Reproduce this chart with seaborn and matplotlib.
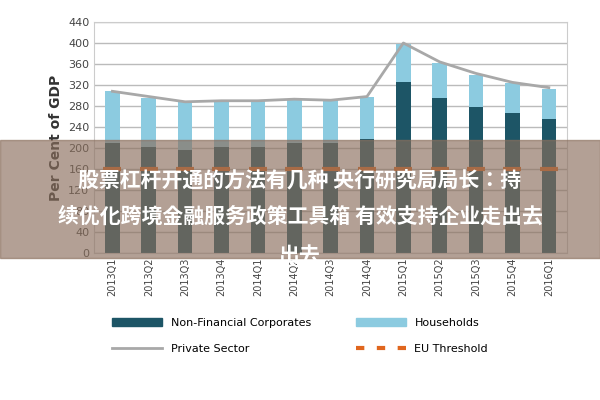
import matplotlib
matplotlib.use("Agg")
import matplotlib.pyplot as plt
from matplotlib import font_manager
import pandas as pd
import seaborn as sns
from matplotlib.patches import Patch, Rectangle
from matplotlib.lines import Line2D

quarters = ["2013Q1", "2013Q2", "2013Q3", "2013Q4", "2014Q1", "2014Q2", "2014Q3",
            "2014Q4", "2015Q1", "2015Q2", "2015Q3", "2015Q4", "2016Q1"]
non_financial = [210, 202, 197, 202, 202, 210, 210, 218, 326, 296, 278, 266, 256]
households = [98, 94, 93, 88, 88, 82, 82, 80, 72, 66, 62, 58, 56]
private_sector = [308, 298, 288, 290, 290, 293, 291, 298, 400, 364, 342, 325, 315]
eu_threshold = [160] * 13

df = pd.DataFrame({"quarter": quarters, "nfc": non_financial,
                   "total": [a + b for a, b in zip(non_financial, households)],
                   "private": private_sector, "eu": eu_threshold})

# pick a CJK font file directly
cjk = None
for f in font_manager.findSystemFonts():
    if "NotoSansCJK" in f.replace(" ", "") and ("Bold" in f or cjk is None):
        cjk = f
        if "Bold" in f:
            break
cjk_prop = font_manager.FontProperties(fname=cjk, size=15, weight="bold") if cjk else \
    font_manager.FontProperties(family="Noto Sans CJK SC", size=15, weight="bold")

dark = "#1d5566"
light = "#8ccbe0"
orange = "#e0661e"
gray = "#a8a8a8"

fig = plt.figure(figsize=(6, 4), dpi=100)
ax = fig.add_axes([0.157, 0.3675, 0.788, 0.5775])
sns.barplot(data=df, x="quarter", y="total", color=light, width=0.4, saturation=1, ax=ax)
sns.barplot(data=df, x="quarter", y="nfc", color=dark, width=0.4, saturation=1, ax=ax)
sns.lineplot(data=df, x="quarter", y="private", color=gray, lw=2, sort=False, ax=ax)
sns.scatterplot(data=df, x="quarter", y="eu", marker="_", s=180, color=orange, linewidth=3, ax=ax, zorder=5)

ax.set_ylim(0, 440)
ax.set_yticks(range(0, 441, 40))
ax.set_xlim(-0.5, 12.5)
ax.grid(axis="y", color="#bbbbbb", lw=1)
ax.set_axisbelow(True)
for s in ax.spines.values():
    s.set_color("#cccccc")
ax.tick_params(length=0, labelsize=8, colors="#444444")
ax.tick_params(axis="x", rotation=90, labelsize=7)
ax.set_xlabel("")
ax.set_ylabel("Per Cent of GDP", fontsize=10, fontweight="bold", color="#333333")

handles = [Patch(color=dark), Line2D([], [], color=gray, lw=2),
           Patch(color=light), Line2D([], [], color=orange, lw=3, ls=(0, (2, 3)))]
labels = ["Non-Financial Corporates", "Private Sector", "Households", "EU Threshold"]
fig.legend(handles, labels, ncol=2, loc="center", bbox_to_anchor=(0.5, 0.16), frameon=False,
           fontsize=8, handlelength=4.5, columnspacing=4, labelspacing=1.4)

fig.patches.append(Rectangle((0, 0.355), 1, 0.295, transform=fig.transFigure,
                             color="#8a6e5c", alpha=0.65, zorder=10))
fig.text(0.5, 0.55, "股票杠杆开通的方法有几种 央行研究局局长：持", fontproperties=cjk_prop,
         color="white", ha="center", va="center", zorder=11)
fig.text(0.5, 0.46, "续优化跨境金融服务政策工具箱 有效支持企业走出去", fontproperties=cjk_prop,
         color="white", ha="center", va="center", zorder=11)
fig.text(0.5, 0.36, "出去", fontproperties=cjk_prop,
         color="white", ha="center", va="center", zorder=11)

fig.savefig("out.png", dpi=100)
